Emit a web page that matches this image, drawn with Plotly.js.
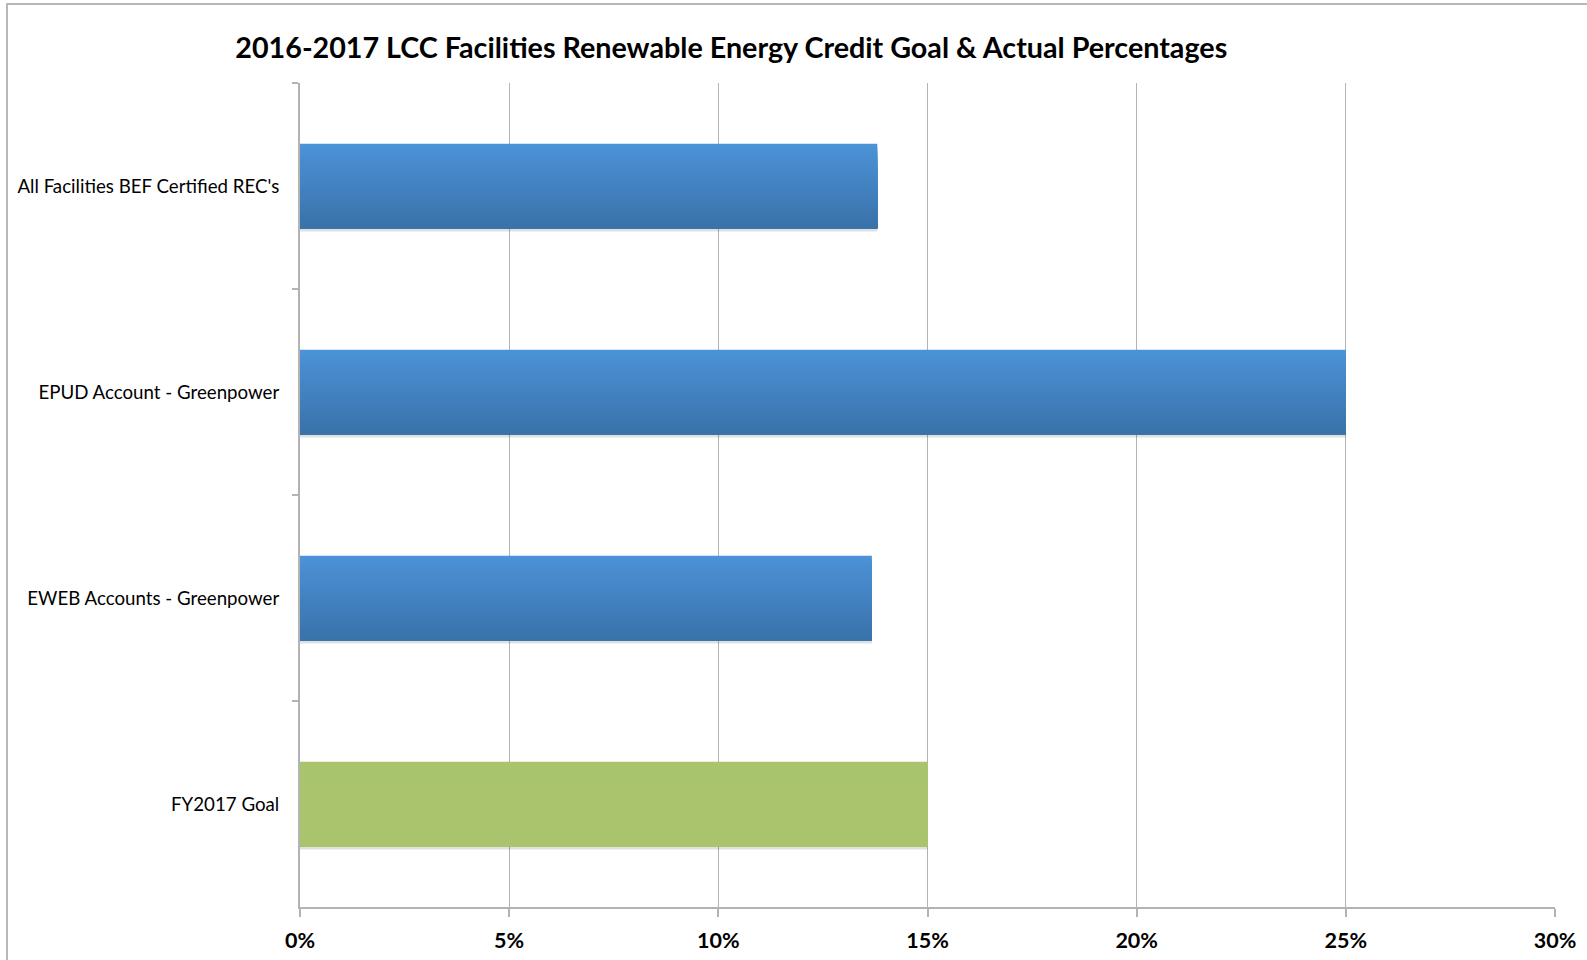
<!DOCTYPE html>
<html>
<head>
<meta charset="utf-8">
<script src="https://cdn.plot.ly/plotly-3.0.1.min.js"></script>
<style>
  html, body { margin: 0; padding: 0; background: #fff; overflow: hidden; width: 1587px; height: 960px; }
  #wrap { position: absolute; left: 0; top: 0; width: 1587px; height: 960px; overflow: hidden; }
  #chart { position: absolute; left: 0; top: 0; width: 1587px; height: 960px; }
  #frame { position: absolute; left: 6px; top: 3px; width: 1620px; height: 1000px;
           border: 2px solid #b8b8b8; pointer-events: none; box-sizing: border-box; }
</style>
</head>
<body>
<div id="wrap">
  <div id="chart"></div>
  <div id="frame"></div>
</div>
<script>
const categories = ["All Facilities BEF Certified REC's", "EPUD Account - Greenpower", "EWEB Accounts - Greenpower", "FY2017 Goal"];
const values = [0.138, 0.25, 0.1367, 0.15];
const isGoal = [false, false, false, true];
const xTickVals = [0, 0.05, 0.10, 0.15, 0.20, 0.25, 0.30];
const xTickText = ["0%", "5%", "10%", "15%", "20%", "25%", "30%"];

// styling: vertical gradient for the blue bars (top light, bottom dark), flat green for goal
const BLUE_TOP = [0x4b, 0x92, 0xd7];
const BLUE_BOT = [0x3a, 0x72, 0xaa];
const GREEN = '#a9c46d';
const BAR_W = 0.41;
const N = 24;

function mix(a, b, t) {
  const c = a.map((v, i) => Math.round(v + (b[i] - v) * t));
  return 'rgb(' + c.join(',') + ')';
}

const traces = [];
// soft shadow under each bar
traces.push({
  type: 'bar', orientation: 'h', y: categories, x: values,
  width: 0.02, offset: BAR_W / 2 - 0.004,
  marker: { color: 'rgba(0,0,0,0.12)', line: { width: 0 } },
  hoverinfo: 'skip'
});
// gradient: each layer starts lower and runs to the bar bottom, so no seams appear
const step = BAR_W / N;
for (let i = 0; i < N; i++) {
  const t = i / (N - 1);
  const col = mix(BLUE_TOP, BLUE_BOT, t);
  traces.push({
    type: 'bar', orientation: 'h', y: categories, x: values,
    width: BAR_W - i * step, offset: -BAR_W / 2 + i * step,
    marker: { color: isGoal.map(g => g ? GREEN : col), line: { width: 0 } },
    hoverinfo: i === 0 ? 'x+y' : 'skip'
  });
}

const layout = {
  width: 1587, height: 960,
  margin: { l: 300, r: 32, t: 83, b: 53, pad: 0 },
  barmode: 'overlay',
  paper_bgcolor: 'rgba(0,0,0,0)',
  plot_bgcolor: 'rgba(0,0,0,0)',
  showlegend: false,
  font: { family: 'Lato, "Open Sans", sans-serif', color: '#000' },
  title: {
    text: '<b>2016-2017 LCC Facilities Renewable Energy Credit Goal &amp; Actual Percentages</b>',
    font: { size: 28.7, family: 'Lato, "Open Sans", sans-serif', color: '#000' },
    x: 0.4608, xanchor: 'center', xref: 'container',
    y: 0.950, yanchor: 'middle', yref: 'container'
  },
  xaxis: {
    range: [0, 0.30],
    tickvals: xTickVals,
    ticktext: xTickText,
    tickfont: { size: 21.5, family: 'Lato, "Open Sans", sans-serif', color: '#000', weight: 'bold' },
    showgrid: true, gridcolor: '#b3b3b3', gridwidth: 1,
    showline: true, linecolor: '#b3b3b3', linewidth: 2,
    ticks: 'outside', ticklen: 8, tickcolor: '#b3b3b3', tickwidth: 1.5,
    ticklabelstandoff: 5,
    zeroline: false, fixedrange: true
  },
  yaxis: {
    type: 'category',
    autorange: 'reversed',
    tickfont: { size: 18.7, family: 'Lato, "Open Sans", sans-serif', color: '#000' },
    showline: true, linecolor: '#b3b3b3', linewidth: 2,
    ticks: 'outside', tickson: 'boundaries', ticklen: 6, tickcolor: '#b3b3b3', tickwidth: 1.5,
    ticklabelstandoff: 15,
    showgrid: false, zeroline: false, fixedrange: true
  }
};

Plotly.newPlot('chart', traces, layout, { displayModeBar: false });
</script>
</body>
</html>
